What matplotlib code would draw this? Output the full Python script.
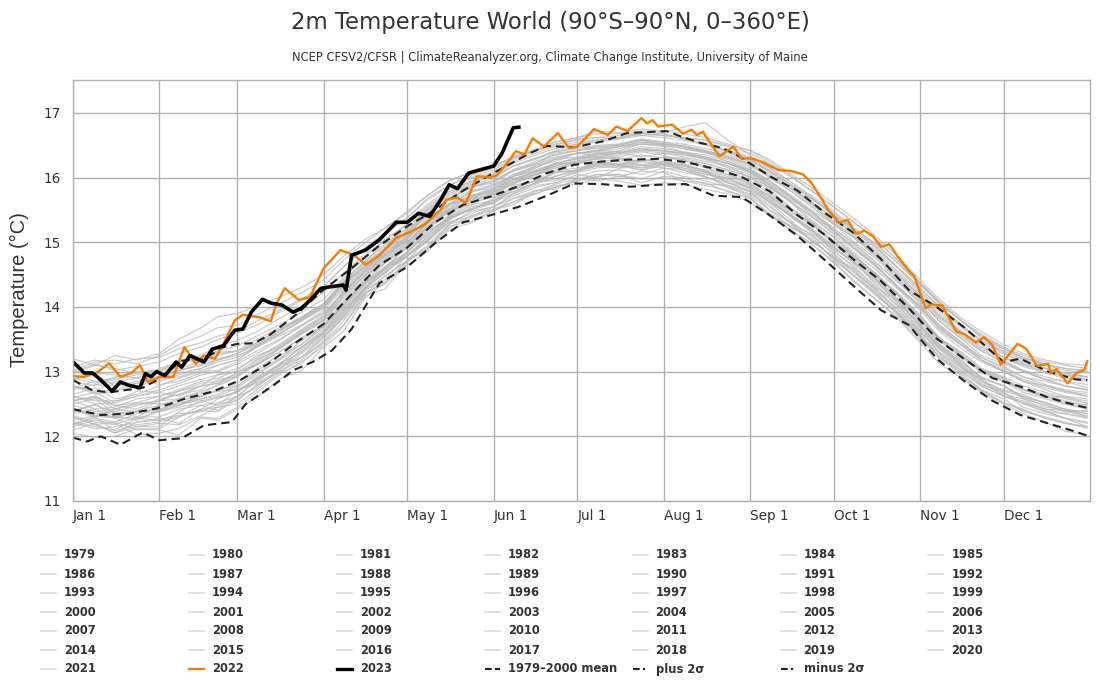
"""2m world temperature climatology chart, one line per year."""
import matplotlib
matplotlib.use("Agg")
import matplotlib.pyplot as plt
from matplotlib.lines import Line2D

W, H = 1100, 700

MONTH_DAYS = [0, 31, 59, 90, 120, 151, 181, 212, 243, 273, 304, 334]
MONTH_LABELS = ["Jan 1", "Feb 1", "Mar 1", "Apr 1", "May 1", "Jun 1",
                "Jul 1", "Aug 1", "Sep 1", "Oct 1", "Nov 1", "Dec 1"]
TEMP_TICKS = [11, 12, 13, 14, 15, 16, 17]

# grey years are estimated about once a week, they overlap too much to read exactly
GREY_DAYS = [0, 8, 15, 23, 31, 38, 46, 52, 59, 66, 74, 82, 90, 97, 105, 112, 120, 127,
             135, 143, 151, 158, 166, 173, 181, 188, 196, 204, 212, 219, 227, 235, 243,
             250, 258, 265, 273, 280, 288, 296, 304, 311, 319, 326, 334, 341, 349, 356, 364]
y1979 = [12.18, 12.28, 12.22, 12.10, 12.12, 12.30, 12.48, 12.40, 12.62, 12.88, 13.05, 13.22, 13.52, 13.90, 14.28, 14.42, 14.80, 15.00, 15.32, 15.40, 15.55, 15.75, 15.88, 15.92, 16.05, 16.00, 16.14, 16.20, 16.15, 16.08, 16.02, 15.88, 15.78, 15.50, 15.30, 15.12, 14.82, 14.55, 14.28, 13.98, 13.62, 13.30, 13.05, 12.88, 12.62, 12.55, 12.40, 12.28, 12.22]
y1980 = [12.30, 12.18, 12.05, 12.22, 12.28, 12.20, 12.42, 12.58, 12.70, 12.85, 13.12, 13.30, 13.60, 14.05, 14.40, 14.52, 14.85, 15.15, 15.40, 15.62, 15.70, 15.78, 15.92, 16.08, 16.12, 16.25, 16.20, 16.15, 16.25, 16.22, 16.10, 15.92, 15.85, 15.68, 15.38, 15.20, 14.85, 14.65, 14.30, 14.10, 13.70, 13.38, 13.12, 12.88, 12.70, 12.62, 12.45, 12.42, 12.30]
y1981 = [12.35, 12.42, 12.28, 12.15, 12.15, 12.38, 12.55, 12.48, 12.72, 12.82, 13.02, 13.35, 13.60, 13.88, 14.30, 14.60, 14.78, 15.08, 15.38, 15.50, 15.60, 15.82, 15.95, 15.95, 16.10, 16.22, 16.18, 16.28, 16.22, 16.15, 16.05, 16.00, 15.82, 15.62, 15.40, 15.18, 14.90, 14.72, 14.35, 14.02, 13.65, 13.42, 13.08, 12.80, 12.68, 12.45, 12.35, 12.28, 12.15]
y1982 = [12.10, 12.20, 12.05, 12.15, 12.20, 12.18, 12.32, 12.45, 12.50, 12.72, 12.98, 13.12, 13.45, 13.78, 14.22, 14.35, 14.72, 14.88, 15.28, 15.38, 15.52, 15.62, 15.80, 15.82, 15.98, 16.05, 16.05, 15.98, 16.10, 16.02, 15.95, 15.85, 15.70, 15.40, 15.25, 15.05, 14.75, 14.60, 14.25, 13.95, 13.62, 13.38, 13.10, 12.85, 12.72, 12.65, 12.50, 12.38, 12.40]
y1983 = [12.55, 12.42, 12.45, 12.58, 12.62, 12.70, 12.82, 12.85, 12.98, 13.12, 13.30, 13.52, 13.70, 14.02, 14.38, 14.58, 14.85, 15.18, 15.35, 15.52, 15.62, 15.88, 15.95, 16.08, 16.10, 16.18, 16.15, 16.25, 16.20, 16.18, 16.08, 15.92, 15.80, 15.62, 15.32, 15.02, 14.78, 14.50, 14.22, 13.88, 13.55, 13.20, 12.98, 12.72, 12.58, 12.38, 12.30, 12.22, 12.12]
y1984 = [12.15, 12.25, 12.20, 12.02, 12.05, 12.12, 12.30, 12.28, 12.45, 12.68, 12.95, 13.15, 13.40, 13.70, 14.18, 14.28, 14.70, 14.90, 15.22, 15.42, 15.50, 15.58, 15.78, 15.90, 15.98, 15.95, 16.02, 16.10, 16.08, 15.95, 15.92, 15.78, 15.68, 15.42, 15.18, 14.98, 14.70, 14.42, 14.12, 13.82, 13.45, 13.12, 12.90, 12.68, 12.50, 12.35, 12.22, 12.08, 12.02]
y1985 = [12.05, 11.98, 12.00, 12.12, 12.10, 12.02, 12.28, 12.25, 12.42, 12.60, 12.88, 13.02, 13.38, 13.62, 14.15, 14.38, 14.65, 14.85, 15.20, 15.30, 15.48, 15.68, 15.75, 15.85, 15.95, 16.02, 16.05, 15.92, 16.02, 16.00, 15.90, 15.88, 15.72, 15.50, 15.22, 15.10, 14.72, 14.50, 14.18, 13.90, 13.52, 13.28, 12.95, 12.70, 12.52, 12.42, 12.28, 12.20, 12.15]
y1986 = [12.22, 12.15, 12.10, 12.28, 12.25, 12.35, 12.38, 12.50, 12.55, 12.80, 13.00, 13.18, 13.48, 13.85, 14.25, 14.48, 14.72, 15.05, 15.30, 15.45, 15.55, 15.72, 15.85, 15.92, 16.02, 16.10, 16.12, 16.05, 16.15, 16.12, 16.00, 15.92, 15.78, 15.58, 15.28, 15.12, 14.82, 14.58, 14.28, 13.92, 13.60, 13.35, 13.05, 12.82, 12.65, 12.58, 12.42, 12.35, 12.30]
y1987 = [12.38, 12.50, 12.30, 12.38, 12.42, 12.52, 12.55, 12.60, 12.68, 12.92, 13.10, 13.38, 13.62, 13.95, 14.32, 14.62, 14.85, 15.22, 15.42, 15.68, 15.72, 15.92, 16.02, 16.22, 16.22, 16.30, 16.35, 16.42, 16.38, 16.32, 16.25, 16.18, 16.00, 15.82, 15.52, 15.32, 15.00, 14.78, 14.48, 14.18, 13.82, 13.48, 13.22, 12.98, 12.85, 12.72, 12.60, 12.62, 12.50]
y1988 = [12.60, 12.68, 12.52, 12.70, 12.68, 12.62, 12.78, 12.95, 13.00, 13.10, 13.35, 13.58, 13.80, 14.18, 14.50, 14.68, 14.98, 15.32, 15.52, 15.68, 15.80, 16.02, 16.10, 16.15, 16.25, 16.38, 16.30, 16.25, 16.32, 16.28, 16.15, 16.05, 15.92, 15.65, 15.40, 15.15, 14.88, 14.62, 14.32, 14.02, 13.68, 13.35, 13.08, 12.85, 12.68, 12.50, 12.38, 12.28, 12.20]
y1989 = [12.20, 12.30, 12.08, 12.18, 12.22, 12.30, 12.42, 12.45, 12.62, 12.75, 13.05, 13.28, 13.55, 13.82, 14.28, 14.55, 14.78, 15.02, 15.35, 15.52, 15.62, 15.82, 15.90, 16.02, 16.10, 16.18, 16.20, 16.12, 16.22, 16.20, 16.10, 15.98, 15.88, 15.70, 15.42, 15.20, 14.92, 14.70, 14.38, 14.08, 13.72, 13.42, 13.15, 12.90, 12.78, 12.62, 12.52, 12.42, 12.35]
y1990 = [12.42, 12.35, 12.38, 12.48, 12.55, 12.65, 12.72, 12.88, 12.92, 13.18, 13.35, 13.62, 13.82, 14.25, 14.52, 14.80, 15.02, 15.22, 15.52, 15.72, 15.78, 15.92, 16.05, 16.12, 16.22, 16.25, 16.28, 16.35, 16.30, 16.28, 16.18, 16.10, 15.95, 15.75, 15.48, 15.30, 15.00, 14.82, 14.50, 14.22, 13.88, 13.52, 13.30, 13.05, 12.92, 12.78, 12.68, 12.60, 12.55]
y1991 = [12.50, 12.58, 12.35, 12.40, 12.48, 12.58, 12.68, 12.70, 12.82, 13.05, 13.25, 13.42, 13.72, 14.08, 14.42, 14.60, 14.95, 15.28, 15.50, 15.58, 15.75, 15.95, 16.05, 16.18, 16.25, 16.32, 16.28, 16.20, 16.25, 16.12, 16.02, 15.85, 15.75, 15.55, 15.28, 15.02, 14.78, 14.55, 14.22, 13.90, 13.58, 13.22, 13.02, 12.78, 12.62, 12.52, 12.42, 12.40, 12.35]
y1992 = [12.40, 12.30, 12.42, 12.52, 12.50, 12.48, 12.62, 12.70, 12.72, 12.88, 13.10, 13.22, 13.55, 13.85, 14.22, 14.38, 14.72, 14.92, 15.25, 15.32, 15.50, 15.62, 15.75, 15.88, 15.90, 15.98, 15.95, 15.88, 15.92, 15.90, 15.82, 15.75, 15.62, 15.42, 15.18, 14.98, 14.68, 14.40, 14.12, 13.85, 13.48, 13.25, 12.92, 12.72, 12.52, 12.40, 12.28, 12.20, 12.15]
y1993 = [12.20, 12.12, 12.15, 12.22, 12.25, 12.32, 12.40, 12.38, 12.58, 12.78, 13.00, 13.22, 13.45, 13.72, 14.20, 14.48, 14.72, 14.95, 15.28, 15.48, 15.55, 15.68, 15.80, 15.85, 15.95, 16.05, 16.02, 15.98, 16.00, 15.95, 15.88, 15.80, 15.68, 15.45, 15.22, 15.05, 14.75, 14.48, 14.20, 13.90, 13.55, 13.30, 13.00, 12.78, 12.62, 12.52, 12.38, 12.35, 12.28]
y1994 = [12.32, 12.22, 12.18, 12.30, 12.30, 12.42, 12.48, 12.52, 12.62, 12.85, 13.08, 13.32, 13.58, 13.92, 14.30, 14.52, 14.82, 15.02, 15.38, 15.50, 15.68, 15.85, 15.95, 16.10, 16.15, 16.22, 16.25, 16.18, 16.22, 16.20, 16.10, 16.02, 15.90, 15.72, 15.45, 15.28, 14.98, 14.72, 14.45, 14.12, 13.82, 13.50, 13.25, 13.00, 12.90, 12.72, 12.65, 12.58, 12.52]
y1995 = [12.55, 12.62, 12.48, 12.52, 12.62, 12.72, 12.85, 12.90, 13.02, 13.25, 13.38, 13.60, 13.80, 14.15, 14.48, 14.72, 15.00, 15.30, 15.50, 15.65, 15.78, 15.90, 16.05, 16.20, 16.25, 16.28, 16.32, 16.40, 16.35, 16.25, 16.22, 16.12, 16.00, 15.78, 15.52, 15.30, 15.02, 14.75, 14.45, 14.12, 13.78, 13.42, 13.18, 12.90, 12.78, 12.58, 12.48, 12.38, 12.32]
y1996 = [12.25, 12.32, 12.30, 12.28, 12.38, 12.45, 12.52, 12.60, 12.68, 12.90, 13.12, 13.38, 13.60, 13.95, 14.30, 14.55, 14.80, 15.08, 15.35, 15.55, 15.62, 15.75, 15.92, 15.98, 16.08, 16.15, 16.18, 16.12, 16.18, 16.15, 16.08, 15.95, 15.85, 15.65, 15.40, 15.18, 14.92, 14.68, 14.42, 14.10, 13.75, 13.48, 13.22, 13.02, 12.88, 12.72, 12.62, 12.52, 12.48]
y1997 = [12.42, 12.32, 12.28, 12.38, 12.40, 12.52, 12.58, 12.65, 12.78, 13.02, 13.20, 13.42, 13.68, 14.05, 14.38, 14.62, 14.92, 15.25, 15.48, 15.62, 15.78, 15.98, 16.08, 16.22, 16.30, 16.32, 16.38, 16.45, 16.42, 16.38, 16.32, 16.22, 16.12, 15.95, 15.72, 15.50, 15.28, 15.08, 14.80, 14.48, 14.15, 13.85, 13.60, 13.38, 13.22, 13.10, 13.00, 12.92, 12.88]
y1998 = [12.88, 12.98, 12.95, 12.90, 13.05, 13.15, 13.18, 13.30, 13.32, 13.50, 13.68, 13.82, 14.05, 14.42, 14.70, 14.88, 15.18, 15.45, 15.68, 15.88, 15.95, 16.12, 16.22, 16.38, 16.42, 16.48, 16.50, 16.58, 16.52, 16.48, 16.40, 16.25, 16.12, 15.88, 15.62, 15.35, 15.08, 14.82, 14.52, 14.20, 13.85, 13.50, 13.28, 13.05, 12.90, 12.72, 12.62, 12.50, 12.45]
y1999 = [12.40, 12.48, 12.38, 12.30, 12.48, 12.55, 12.62, 12.72, 12.78, 12.98, 13.18, 13.38, 13.65, 13.98, 14.35, 14.58, 14.85, 15.12, 15.38, 15.58, 15.65, 15.78, 15.92, 16.08, 16.12, 16.20, 16.22, 16.15, 16.20, 16.12, 16.05, 15.98, 15.85, 15.62, 15.42, 15.22, 14.95, 14.68, 14.42, 14.05, 13.72, 13.38, 13.15, 12.92, 12.78, 12.60, 12.52, 12.42, 12.38]
y2000 = [12.30, 12.18, 12.22, 12.35, 12.38, 12.48, 12.58, 12.62, 12.75, 12.95, 13.18, 13.48, 13.70, 14.00, 14.38, 14.62, 14.85, 15.12, 15.40, 15.52, 15.65, 15.85, 15.95, 16.02, 16.12, 16.22, 16.20, 16.28, 16.25, 16.18, 16.12, 16.05, 15.90, 15.72, 15.48, 15.28, 15.02, 14.78, 14.50, 14.18, 13.80, 13.52, 13.25, 13.02, 12.85, 12.68, 12.58, 12.50, 12.42]
y2001 = [12.48, 12.38, 12.42, 12.50, 12.55, 12.70, 12.78, 12.82, 12.98, 13.20, 13.40, 13.65, 13.88, 14.22, 14.55, 14.75, 15.05, 15.38, 15.58, 15.78, 15.85, 16.02, 16.12, 16.22, 16.30, 16.38, 16.38, 16.45, 16.42, 16.35, 16.30, 16.22, 16.08, 15.88, 15.65, 15.48, 15.18, 14.95, 14.65, 14.32, 14.00, 13.68, 13.42, 13.22, 13.08, 12.92, 12.85, 12.78, 12.72]
y2002 = [12.72, 12.80, 12.78, 12.85, 12.92, 13.02, 13.12, 13.25, 13.32, 13.42, 13.58, 13.78, 13.98, 14.32, 14.62, 14.82, 15.10, 15.32, 15.60, 15.72, 15.85, 16.05, 16.15, 16.28, 16.32, 16.42, 16.40, 16.32, 16.38, 16.35, 16.28, 16.18, 16.08, 15.85, 15.62, 15.40, 15.12, 14.85, 14.58, 14.28, 13.95, 13.62, 13.35, 13.15, 13.00, 12.85, 12.78, 12.70, 12.65]
y2003 = [12.78, 12.68, 12.72, 12.82, 12.88, 12.92, 13.02, 13.10, 13.18, 13.38, 13.55, 13.72, 13.95, 14.28, 14.60, 14.82, 15.10, 15.42, 15.65, 15.80, 15.90, 16.02, 16.18, 16.30, 16.38, 16.35, 16.42, 16.52, 16.48, 16.40, 16.35, 16.25, 16.12, 15.95, 15.70, 15.48, 15.22, 14.98, 14.68, 14.40, 14.05, 13.72, 13.45, 13.22, 13.05, 12.92, 12.80, 12.72, 12.68]
y2004 = [12.65, 12.75, 12.58, 12.65, 12.78, 12.90, 13.00, 13.02, 13.15, 13.32, 13.50, 13.70, 13.92, 14.20, 14.55, 14.80, 15.05, 15.28, 15.58, 15.70, 15.82, 15.98, 16.10, 16.18, 16.28, 16.35, 16.38, 16.45, 16.40, 16.38, 16.30, 16.22, 16.10, 15.92, 15.68, 15.48, 15.20, 15.00, 14.70, 14.38, 14.08, 13.78, 13.50, 13.25, 13.12, 13.00, 12.88, 12.85, 12.75]
y2005 = [12.78, 12.65, 12.70, 12.78, 12.85, 12.95, 13.05, 13.18, 13.25, 13.38, 13.58, 13.80, 14.00, 14.35, 14.65, 14.88, 15.15, 15.45, 15.68, 15.85, 15.92, 16.10, 16.20, 16.32, 16.38, 16.42, 16.48, 16.55, 16.50, 16.45, 16.38, 16.30, 16.18, 16.02, 15.78, 15.58, 15.30, 15.08, 14.78, 14.45, 14.12, 13.78, 13.52, 13.32, 13.15, 13.00, 12.88, 12.78, 12.72]
y2006 = [12.62, 12.55, 12.55, 12.62, 12.72, 12.82, 12.95, 13.00, 13.12, 13.28, 13.48, 13.72, 13.90, 14.22, 14.58, 14.78, 15.08, 15.35, 15.60, 15.78, 15.88, 16.05, 16.18, 16.25, 16.38, 16.40, 16.45, 16.52, 16.52, 16.48, 16.42, 16.32, 16.22, 16.02, 15.82, 15.60, 15.32, 15.10, 14.82, 14.50, 14.18, 13.88, 13.60, 13.38, 13.22, 13.12, 13.00, 12.95, 12.92]
y2007 = [12.98, 13.10, 13.05, 12.98, 13.02, 13.05, 13.15, 13.28, 13.32, 13.45, 13.65, 13.82, 14.02, 14.38, 14.62, 14.80, 15.08, 15.30, 15.58, 15.68, 15.82, 15.95, 16.10, 16.22, 16.30, 16.32, 16.38, 16.42, 16.42, 16.38, 16.30, 16.15, 16.05, 15.85, 15.60, 15.32, 15.08, 14.80, 14.52, 14.18, 13.85, 13.52, 13.25, 13.02, 12.85, 12.72, 12.62, 12.55, 12.48]
y2008 = [12.42, 12.32, 12.30, 12.25, 12.40, 12.48, 12.65, 12.80, 12.92, 13.12, 13.35, 13.58, 13.78, 14.12, 14.45, 14.70, 14.95, 15.22, 15.48, 15.65, 15.75, 15.90, 16.05, 16.15, 16.22, 16.30, 16.30, 16.25, 16.32, 16.30, 16.22, 16.12, 16.02, 15.85, 15.62, 15.40, 15.15, 14.90, 14.62, 14.30, 13.98, 13.68, 13.40, 13.18, 13.02, 12.85, 12.75, 12.68, 12.62]
y2009 = [12.62, 12.50, 12.52, 12.62, 12.68, 12.78, 12.88, 12.95, 13.05, 13.22, 13.42, 13.65, 13.85, 14.18, 14.50, 14.75, 15.00, 15.28, 15.55, 15.72, 15.82, 16.02, 16.15, 16.28, 16.38, 16.42, 16.48, 16.55, 16.52, 16.50, 16.42, 16.32, 16.20, 16.00, 15.78, 15.55, 15.28, 15.02, 14.75, 14.42, 14.10, 13.82, 13.55, 13.35, 13.18, 13.02, 12.92, 12.85, 12.80]
y2010 = [12.85, 12.78, 12.92, 12.98, 13.00, 13.15, 13.25, 13.40, 13.48, 13.62, 13.82, 14.02, 14.22, 14.52, 14.82, 15.02, 15.28, 15.55, 15.78, 15.95, 16.02, 16.18, 16.28, 16.40, 16.48, 16.45, 16.52, 16.60, 16.55, 16.48, 16.40, 16.28, 16.15, 15.95, 15.68, 15.45, 15.18, 14.92, 14.65, 14.32, 14.02, 13.70, 13.45, 13.18, 13.00, 12.85, 12.72, 12.62, 12.58]
y2011 = [12.55, 12.60, 12.48, 12.42, 12.58, 12.65, 12.78, 12.82, 12.95, 13.10, 13.30, 13.52, 13.72, 14.05, 14.40, 14.68, 14.92, 15.22, 15.48, 15.62, 15.78, 15.95, 16.08, 16.22, 16.30, 16.38, 16.40, 16.48, 16.45, 16.40, 16.32, 16.22, 16.10, 15.90, 15.68, 15.42, 15.18, 14.92, 14.65, 14.30, 14.00, 13.65, 13.40, 13.18, 13.02, 12.88, 12.78, 12.70, 12.62]
y2012 = [12.55, 12.62, 12.42, 12.38, 12.55, 12.58, 12.70, 12.78, 12.92, 13.15, 13.38, 13.62, 13.85, 14.25, 14.58, 14.85, 15.12, 15.42, 15.68, 15.85, 15.95, 16.10, 16.22, 16.35, 16.42, 16.48, 16.50, 16.58, 16.55, 16.52, 16.45, 16.38, 16.28, 16.08, 15.85, 15.62, 15.38, 15.12, 14.85, 14.52, 14.18, 13.85, 13.58, 13.32, 13.15, 13.02, 12.88, 12.78, 12.72]
y2013 = [12.75, 12.85, 12.82, 12.78, 12.90, 12.98, 13.05, 13.15, 13.22, 13.40, 13.58, 13.80, 14.00, 14.32, 14.65, 14.88, 15.15, 15.42, 15.68, 15.85, 15.95, 16.12, 16.25, 16.35, 16.42, 16.45, 16.48, 16.52, 16.50, 16.45, 16.40, 16.32, 16.22, 16.05, 15.82, 15.62, 15.38, 15.15, 14.88, 14.55, 14.22, 13.92, 13.62, 13.42, 13.22, 13.08, 12.98, 12.90, 12.85]
y2014 = [12.88, 12.95, 12.78, 12.82, 12.92, 13.02, 13.10, 13.18, 13.28, 13.42, 13.62, 13.85, 14.05, 14.38, 14.72, 14.98, 15.22, 15.50, 15.75, 15.92, 16.02, 16.18, 16.30, 16.40, 16.45, 16.50, 16.52, 16.58, 16.52, 16.48, 16.40, 16.35, 16.25, 16.10, 15.88, 15.68, 15.42, 15.20, 14.92, 14.60, 14.28, 14.00, 13.70, 13.48, 13.32, 13.18, 13.05, 12.98, 12.92]
y2015 = [12.95, 12.85, 12.90, 13.00, 13.02, 13.15, 13.22, 13.32, 13.40, 13.55, 13.72, 13.92, 14.12, 14.45, 14.78, 15.05, 15.28, 15.58, 15.82, 16.00, 16.08, 16.25, 16.38, 16.48, 16.55, 16.58, 16.62, 16.68, 16.65, 16.62, 16.58, 16.50, 16.42, 16.28, 16.05, 15.85, 15.60, 15.38, 15.10, 14.78, 14.42, 14.12, 13.82, 13.62, 13.42, 13.28, 13.18, 13.12, 13.10]
y2016 = [13.20, 13.10, 13.25, 13.18, 13.28, 13.50, 13.68, 13.85, 13.90, 14.02, 14.15, 14.30, 14.50, 14.78, 15.05, 15.22, 15.48, 15.72, 15.95, 16.08, 16.18, 16.32, 16.42, 16.50, 16.60, 16.62, 16.65, 16.72, 16.70, 16.78, 16.85, 16.58, 16.35, 16.15, 15.92, 15.70, 15.42, 15.22, 14.98, 14.68, 14.35, 14.05, 13.78, 13.55, 13.35, 13.22, 13.10, 13.02, 12.98]
y2017 = [13.00, 13.12, 13.02, 13.08, 13.15, 13.28, 13.38, 13.50, 13.60, 13.72, 13.92, 14.10, 14.32, 14.62, 14.92, 15.12, 15.38, 15.68, 15.88, 16.05, 16.15, 16.30, 16.42, 16.52, 16.58, 16.62, 16.60, 16.65, 16.62, 16.58, 16.50, 16.42, 16.30, 16.12, 15.88, 15.68, 15.42, 15.18, 14.92, 14.60, 14.25, 13.95, 13.68, 13.45, 13.28, 13.15, 13.05, 12.98, 12.92]
y2018 = [12.90, 12.82, 12.88, 12.95, 12.98, 13.02, 13.10, 13.20, 13.28, 13.45, 13.65, 13.85, 14.05, 14.38, 14.72, 14.95, 15.22, 15.52, 15.78, 15.95, 16.05, 16.22, 16.35, 16.45, 16.52, 16.58, 16.62, 16.70, 16.68, 16.60, 16.52, 16.40, 16.28, 16.10, 15.88, 15.68, 15.45, 15.22, 14.98, 14.68, 14.35, 14.05, 13.78, 13.58, 13.38, 13.25, 13.15, 13.10, 13.05]
y2019 = [13.08, 13.18, 13.12, 13.20, 13.22, 13.35, 13.45, 13.55, 13.62, 13.78, 13.95, 14.12, 14.32, 14.62, 14.92, 15.15, 15.38, 15.65, 15.88, 16.02, 16.12, 16.28, 16.42, 16.55, 16.62, 16.68, 16.68, 16.75, 16.72, 16.68, 16.62, 16.52, 16.42, 16.25, 16.02, 15.80, 15.55, 15.32, 15.05, 14.72, 14.38, 14.08, 13.78, 13.55, 13.38, 13.22, 13.12, 13.05, 13.00]
y2020 = [13.02, 13.15, 13.18, 13.12, 13.25, 13.42, 13.55, 13.68, 13.72, 13.88, 14.05, 14.22, 14.42, 14.72, 15.00, 15.22, 15.45, 15.72, 15.95, 16.10, 16.18, 16.32, 16.45, 16.55, 16.62, 16.72, 16.70, 16.65, 16.68, 16.60, 16.52, 16.42, 16.32, 16.15, 15.92, 15.72, 15.48, 15.22, 14.95, 14.62, 14.30, 14.00, 13.72, 13.48, 13.30, 13.12, 13.05, 12.95, 12.88]
y2021 = [12.78, 12.70, 12.85, 12.90, 12.80, 12.85, 12.98, 13.10, 13.18, 13.40, 13.62, 13.82, 14.02, 14.35, 14.68, 14.92, 15.18, 15.48, 15.72, 15.90, 15.98, 16.18, 16.30, 16.42, 16.52, 16.55, 16.60, 16.68, 16.65, 16.62, 16.58, 16.48, 16.38, 16.22, 16.00, 15.80, 15.55, 15.32, 15.05, 14.72, 14.38, 14.08, 13.78, 13.52, 13.35, 13.20, 13.10, 13.05, 13.02]
GREY_YEARS = [y1979, y1980, y1981, y1982, y1983, y1984, y1985, y1986, y1987,
              y1988, y1989, y1990, y1991, y1992, y1993, y1994, y1995, y1996,
              y1997, y1998, y1999, y2000, y2001, y2002, y2003, y2004, y2005,
              y2006, y2007, y2008, y2009, y2010, y2011, y2012, y2013, y2014,
              y2015, y2016, y2017, y2018, y2019, y2020, y2021]

DAYS_2022 = [0, 4, 9, 13, 17, 21, 24, 27, 31, 36, 40, 44, 47, 51, 54, 58, 61, 67,
             71, 73, 76, 81, 85, 90, 96, 101, 105, 110, 116, 121, 126, 132, 134,
             138, 141, 145, 150, 152, 155, 159, 162, 165, 169, 174, 178, 181, 187, 192,
             195, 199, 204, 206, 208, 210, 215, 219, 222, 224, 226, 232, 237, 240,
             243, 247, 253, 258, 262, 265, 269, 271, 275, 278, 281, 284, 287, 290, 293,
             296, 300, 302, 306, 308, 312, 317, 320, 324, 327, 330, 333, 339, 342, 346,
             350, 351, 353, 357, 360, 363, 364]
T_2022 = [12.93, 12.92, 13.0, 13.13, 12.92, 12.98, 13.1, 12.84, 12.92, 12.92, 13.38,
          13.12, 13.25, 13.2, 13.43, 13.79, 13.88, 13.84, 13.78, 14.05, 14.29, 14.11,
          14.15, 14.6, 14.88, 14.8, 14.65, 14.8, 15.07, 15.16, 15.27, 15.51, 15.66,
          15.69, 15.61, 16.02, 16.01, 16.03, 16.18, 16.41, 16.36, 16.61, 16.48, 16.69,
          16.46, 16.48, 16.75, 16.66, 16.79, 16.72, 16.92, 16.84, 16.89, 16.79, 16.82,
          16.68, 16.74, 16.66, 16.71, 16.33, 16.48, 16.29, 16.3, 16.25, 16.12, 16.1,
          16.05, 15.92, 15.65, 15.5, 15.3, 15.35, 15.13, 15.18, 15.1, 14.93, 14.97,
          14.78, 14.56, 14.47, 13.98, 14.04, 14.02, 13.62, 13.58, 13.45, 13.53, 13.41,
          13.11, 13.43, 13.36, 13.09, 13.12, 12.98, 13.04, 12.82, 12.97, 13.03, 13.16]

DAYS_2023 = [0, 2, 4, 7, 10, 14, 17, 20, 24, 26, 28, 30, 33, 37, 39, 42, 47, 50, 54,
             58, 61, 64, 68, 71, 75, 79, 82, 85, 89, 92, 97, 98, 100, 105, 110, 116,
             120, 124, 128, 132, 135, 138, 142, 146, 151, 154, 158, 160]
T_2023 = [13.15, 13.07, 12.98, 12.98, 12.87, 12.7, 12.84, 12.79, 12.75, 12.97, 12.92,
          13.0, 12.94, 13.15, 13.07, 13.25, 13.15, 13.35, 13.4, 13.64, 13.66, 13.92,
          14.12, 14.06, 14.03, 13.92, 13.98, 14.1, 14.29, 14.31, 14.34, 14.26, 14.8,
          14.88, 15.04, 15.31, 15.31, 15.45, 15.4, 15.66, 15.89, 15.83, 16.07, 16.12,
          16.18, 16.38, 16.77, 16.78]

MEAN_DAYS = [0, 10, 20, 30, 40, 50, 60, 70, 80, 90, 100, 110, 120, 130, 140, 150, 160,
             170, 180, 190, 200, 210, 220, 230, 240, 250, 260, 270, 280, 290, 300, 310,
             320, 330, 340, 350, 360, 364]
T_MEAN = [12.42, 12.33, 12.35, 12.43, 12.58, 12.69, 12.87, 13.12, 13.45, 13.74, 14.2,
          14.65, 14.92, 15.31, 15.58, 15.71, 15.87, 16.07, 16.2, 16.25, 16.28, 16.29,
          16.24, 16.14, 16.01, 15.79, 15.42, 15.11, 14.74, 14.4, 13.98, 13.51, 13.19,
          12.9, 12.77, 12.6, 12.48, 12.44]

PLUS_DAYS = [0, 7, 13, 25, 31, 39, 47, 54, 59, 65, 71, 80, 90, 100, 110, 120, 130, 140,
             150, 164, 170, 180, 190, 199, 213, 218, 225, 233, 239, 251, 260, 270, 280,
             290, 300, 310, 320, 330, 334, 340, 350, 360, 364]
T_PLUS = [12.87, 12.71, 12.68, 12.75, 12.89, 13.17, 13.2, 13.38, 13.43, 13.44, 13.58,
          13.88, 14.27, 14.6, 14.95, 15.25, 15.5, 15.8, 16.05, 16.38, 16.49, 16.47,
          16.56, 16.69, 16.72, 16.64, 16.54, 16.46, 16.33, 16.0, 15.8, 15.45, 15.15,
          14.74, 14.26, 14.0, 13.68, 13.3, 13.15, 13.2, 13.0, 12.88, 12.87]

MINUS_DAYS = [0, 5, 10, 17, 25, 31, 39, 47, 57, 62, 72, 79, 86, 93, 100, 110, 120, 130,
              140, 150, 160, 170, 180, 190, 200, 210, 220, 230, 240, 250, 260, 270, 280,
              290, 300, 310, 320, 330, 340, 350, 360, 364]
T_MINUS = [11.98, 11.92, 12.0, 11.87, 12.06, 11.94, 11.97, 12.17, 12.22, 12.5, 12.79,
           13.02, 13.15, 13.33, 13.66, 14.37, 14.62, 14.99, 15.31, 15.42, 15.55, 15.72,
           15.91, 15.9, 15.86, 15.89, 15.9, 15.72, 15.7, 15.42, 15.1, 14.72, 14.33,
           13.95, 13.72, 13.2, 12.85, 12.55, 12.33, 12.2, 12.07, 12.01]

LEGEND_LABELS = [str(y) for y in range(1979, 2024)] + \
    ["1979\u20132000 mean", "plus 2\u03c3", "minus 2\u03c3"]

GREY = "#b8b8b8"
ORANGE = "#f57c00"
DARK = "#222222"
GRID = "#b0b0b0"
TEXT = "#333333"


def legend_style(label):
    if label == "2022":
        return dict(color=ORANGE, lw=1.6)
    if label == "2023":
        return dict(color="black", lw=2.4)
    if label.startswith("1979\u2013"):
        return dict(color=DARK, lw=1.5, dashes=(3.2, 1.6))
    if label.startswith(("plus", "minus")):
        return dict(color=DARK, lw=1.5, dashes=(3.2, 1.6, 1, 1.6))
    return dict(color="#dddddd", lw=1.3)


fig = plt.figure(figsize=(W / 100, H / 100), dpi=100, facecolor="white")
ax = fig.add_axes([73 / W, 1 - 501 / H, (1090 - 73) / W, (501 - 80) / H])

for vals in GREY_YEARS:
    ax.plot(GREY_DAYS, vals, color=GREY, lw=0.85, alpha=0.75)
dash = (4, 2.4)
ax.plot(MEAN_DAYS, T_MEAN, color=DARK, lw=1.5, dashes=dash)
ax.plot(PLUS_DAYS, T_PLUS, color=DARK, lw=1.5, dashes=dash)
ax.plot(MINUS_DAYS, T_MINUS, color=DARK, lw=1.5, dashes=dash)
ax.plot(DAYS_2022, T_2022, color=ORANGE, lw=1.7)
ax.plot(DAYS_2023, T_2023, color="black", lw=2.6)

ax.set_xlim(0, 365)
ax.set_ylim(11, 17.51)
ax.set_xticks(MONTH_DAYS, MONTH_LABELS, ha="left", fontsize=9.8, color=TEXT)
ax.set_yticks(TEMP_TICKS, [str(t) for t in TEMP_TICKS], fontsize=9.8, color=TEXT)
ax.tick_params(length=0)
ax.tick_params(axis="x", pad=6)
ax.tick_params(axis="y", pad=9)
ax.grid(True, color=GRID, lw=1.0)
ax.set_axisbelow(True)
for s in ax.spines.values():
    s.set_color(GRID)
    s.set_linewidth(1.0)

fig.text(550 / W, 1 - 22 / H, "2m Temperature World (90\u00b0S\u201390\u00b0N, 0\u2013360\u00b0E)",
         ha="center", va="center", fontsize=16.4, color=TEXT)
fig.text(550 / W, 1 - 57 / H,
         "NCEP CFSV2/CFSR | ClimateReanalyzer.org, Climate Change Institute, University of Maine",
         ha="center", va="center", fontsize=8.3, color=TEXT)
fig.text(19 / W, 1 - 290 / H, "Temperature (\u00b0C)", rotation=90, ha="center",
         va="center", fontsize=14.5, family="Liberation Sans", color=TEXT)

# legend laid out by hand, seven fixed columns
for i, label in enumerate(LEGEND_LABELS):
    col, row = i % 7, i // 7
    tx = 64 + col * 147.9
    ty = 555 + row * 19
    fig.add_artist(Line2D([(tx - 23) / W, (tx - 8) / W], [1 - ty / H, 1 - ty / H],
                          **legend_style(label)))
    fig.text(tx / W, 1 - ty / H, label, ha="left", va="center", fontsize=8.3,
             fontweight="bold", color=TEXT)

fig.savefig("out.png", dpi=100)
